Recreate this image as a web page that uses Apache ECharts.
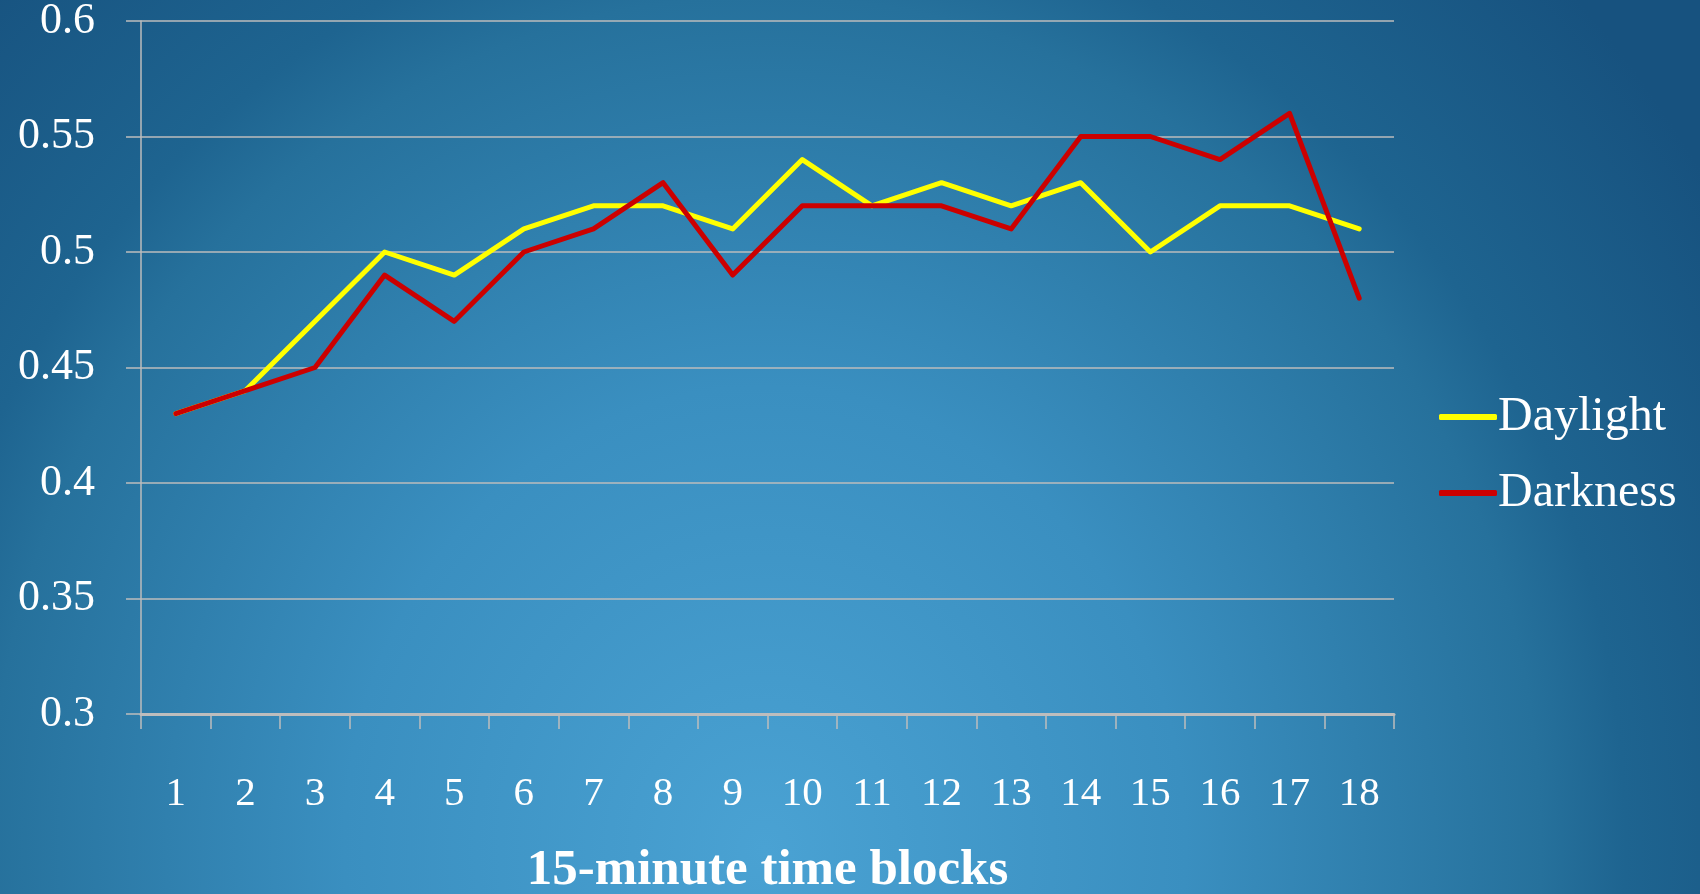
<!DOCTYPE html>
<html>
<head>
<meta charset="utf-8">
<script src="https://cdn.jsdelivr.net/npm/echarts@6/dist/echarts.min.js"></script>
<style>
  html, body { margin: 0; padding: 0; }
  #chart {
    width: 1700px;
    height: 894px;
    background: radial-gradient(ellipse 55% 115% at 45% 95%,
      #4aa2d3 0%, #3a8fc0 45%, #26719c 83%, #1e6490 92%, #17527f 120%);
  }
</style>
</head>
<body>
<div id="chart"></div>
<script>
const blocks = ['1', '2', '3', '4', '5', '6', '7', '8', '9', '10', '11', '12', '13', '14', '15', '16', '17', '18']
const daylight = [0.43, 0.44, 0.47, 0.50, 0.49, 0.51, 0.52, 0.52, 0.51, 0.54, 0.52, 0.53, 0.52, 0.53, 0.50, 0.52, 0.52, 0.51]
const darkness = [0.43, 0.44, 0.45, 0.49, 0.47, 0.50, 0.51, 0.53, 0.49, 0.52, 0.52, 0.52, 0.51, 0.55, 0.55, 0.54, 0.56, 0.48]

const serif = '"Liberation Serif", "DejaVu Serif", serif'
const gridGray = '#bdbdbd'

const chart = echarts.init(document.getElementById('chart'))

const option = {
  backgroundColor: 'transparent',
  animation: false,
  grid: {
    left: 141,
    right: 306,
    top: 21,
    bottom: 180,
    containLabel: false,
    outerBoundsMode: 'none'
  },
  legend: {
    orient: 'vertical',
    left: 1434,
    top: 388,
    icon: 'roundRect',
    itemWidth: 58,
    itemHeight: 6,
    itemGap: 28,
    textStyle: { color: '#fff', fontFamily: serif, fontSize: 48, padding: [0, 0, 0, -4] },
    data: ['Daylight', 'Darkness']
  },
  xAxis: {
    type: 'category',
    data: blocks,
    boundaryGap: true,
    name: '15-minute time blocks',
    nameLocation: 'middle',
    nameGap: 131,
    nameTextStyle: { color: '#fff', fontFamily: serif, fontSize: 51, fontWeight: 'bold' },
    axisLine: { lineStyle: { color: gridGray, width: 3 } },
    axisTick: { show: true, length: 15, lineStyle: { color: gridGray, width: 1.5 } },
    axisLabel: { color: '#fff', fontFamily: serif, fontSize: 41, margin: 60 }
  },
  yAxis: {
    type: 'value',
    min: 0.3,
    max: 0.6,
    interval: 0.05,
    axisLine: { show: true, lineStyle: { color: gridGray, width: 1.5 } },
    axisTick: { show: true, length: 15, lineStyle: { color: gridGray, width: 1.5 } },
    axisLabel: {
      color: '#fff',
      fontFamily: serif,
      fontSize: 44,
      margin: 46,
      formatter: v => String(Math.round(v * 100) / 100)
    },
    splitLine: { lineStyle: { color: gridGray, width: 1.5 } }
  },
  series: [
    {
      name: 'Daylight',
      type: 'line',
      data: daylight,
      symbol: 'none',
      lineStyle: { color: '#ffff00', width: 5, cap: 'round', join: 'round' },
      itemStyle: { color: '#ffff00' }
    },
    {
      name: 'Darkness',
      type: 'line',
      data: darkness,
      symbol: 'none',
      lineStyle: { color: '#cc0000', width: 5, cap: 'round', join: 'round' },
      itemStyle: { color: '#cc0000' }
    }
  ]
}

chart.setOption(option)
</script>
</body>
</html>
